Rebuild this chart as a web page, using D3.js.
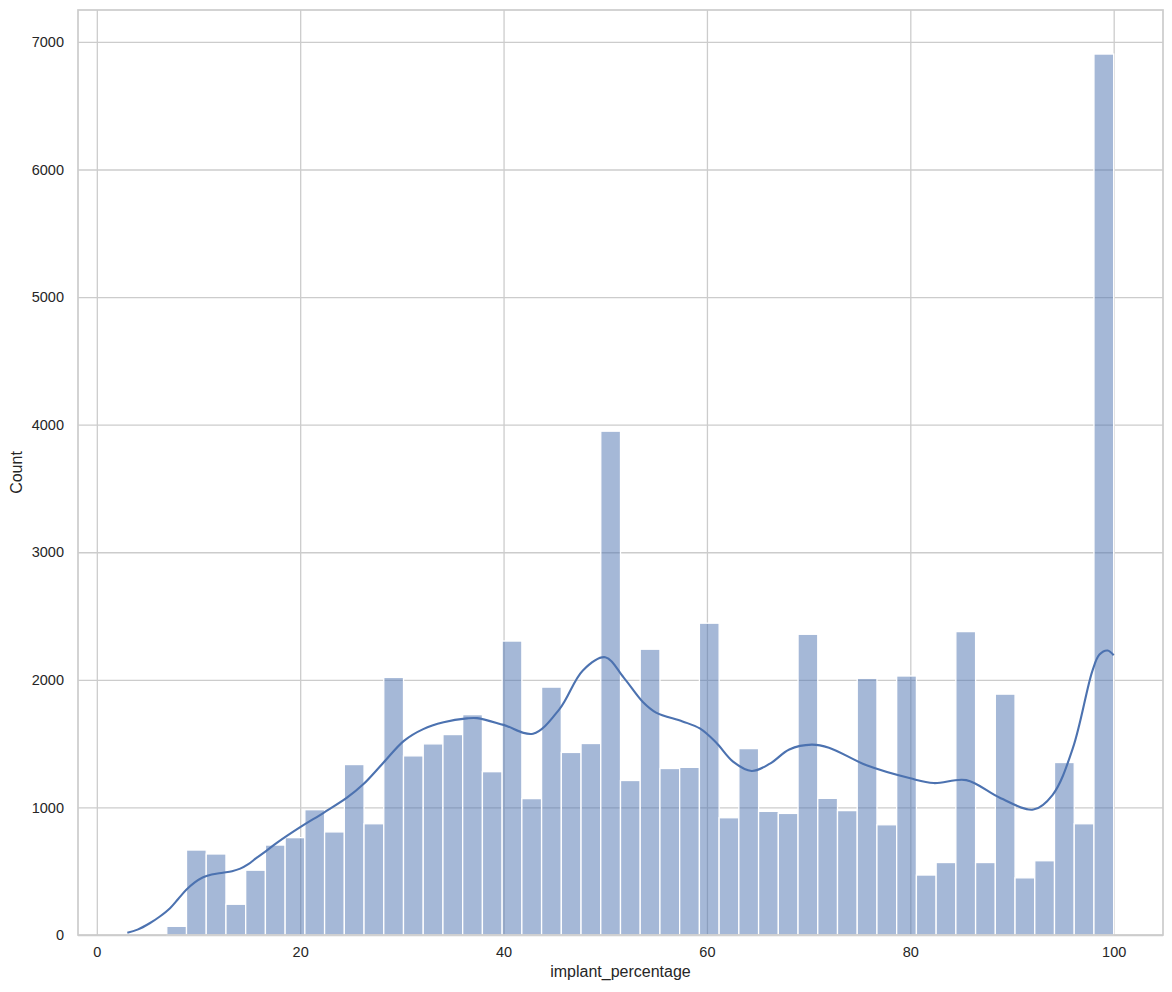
<!DOCTYPE html>
<html>
<head>
<meta charset="utf-8">
<script src="https://cdn.jsdelivr.net/npm/d3@7"></script>
<style>
  html, body { margin: 0; padding: 0; background: #fff; }
  svg { display: block; }
  text { font-family: Arial, "Liberation Sans", sans-serif; fill: #262626; }
</style>
</head>
<body>
<svg id="chart" width="1172" height="992"></svg>
<script>
// ---- data ----
const binRange = [3, 100];           // min and max of implant_percentage (50 equal bins)
const counts = [0, 0, 68, 666, 635, 241, 508, 705, 763, 982,
                808, 1336, 872, 2019, 1404, 1498, 1571, 1727, 1280, 2304,
                1069, 1943, 1431, 1501, 3949, 1211, 2240, 1305, 1314, 2444,
                919, 1461, 969, 953, 2357, 1071, 975, 2012, 864, 2030,
                470, 568, 2378, 568, 1888, 448, 582, 1352, 872, 6905];
const kdeX = [3.0, 4.0, 5.2, 6.2, 7.2, 8.0, 8.8, 9.6, 10.4, 11.3, 12.4, 13.3, 14.1, 14.9, 15.7, 16.7, 17.7,
              20, 22.3, 24.6, 26.2, 28.2, 30.2, 32.1,
              34.1, 36.4, 37.4, 40, 42.9, 45.5, 47.8, 50.0, 51.8, 53.7, 55.0, 57.6, 59.3, 60.9, 62.6,
              64.4, 66.2, 68.1, 70.3, 72.0, 75.7, 80, 82.3, 85.5, 88.8, 92.1, 94.0, 96.0, 97.9, 98.6, 99.4, 100];
const kdeY = [18, 42, 92, 145, 210, 282, 354, 410, 451, 474, 488, 500, 520, 555, 604, 662, 722,
              845, 958, 1076, 1181, 1352, 1522, 1614,
              1667, 1698, 1700, 1647, 1578, 1771, 2074, 2177, 2019, 1826, 1743, 1674, 1619, 1509, 1357,
              1286, 1343, 1454, 1492, 1468, 1330, 1228, 1191, 1214, 1076, 983, 1099, 1468, 2068, 2198, 2230, 2193];
const xTicks = [0, 20, 40, 60, 80, 100];
const yTicks = [0, 1000, 2000, 3000, 4000, 5000, 6000, 7000];
const xLabel = "implant_percentage";
const yLabel = "Count";

// ---- layout ----
const L = 78, R = 1163, T = 10, B = 935;
const svg = d3.select("#chart");
const nb = counts.length;
const bw = (binRange[1] - binRange[0]) / nb;
const bins = counts.map((c, i) => ({x0: binRange[0] + i * bw, x1: binRange[0] + (i + 1) * bw, c}));

const span = binRange[1] - binRange[0];
const x = d3.scaleLinear().domain([binRange[0] - 0.05 * span, binRange[1] + 0.05 * span]).range([L, R]);
const yMax = d3.max(counts) * 1.05;
const y = d3.scaleLinear().domain([0, yMax]).range([B, T]);

const gridColor = "#cccccc";

// grid
const xAxis = d3.axisBottom(x).tickValues(xTicks).tickSize(-(B - T)).tickPadding(12).tickFormat(d3.format("d"));
const yAxis = d3.axisLeft(y).tickValues(yTicks).tickSize(-(R - L)).tickPadding(14).tickFormat(d3.format("d"));

const gx = svg.append("g").attr("transform", `translate(0,${B})`).call(xAxis);
const gy = svg.append("g").attr("transform", `translate(${L},0)`).call(yAxis);
[gx, gy].forEach(g => {
  g.select(".domain").remove();
  g.selectAll(".tick line").attr("stroke", gridColor).attr("stroke-width", 1.3);
  g.selectAll(".tick text").attr("font-size", "14.5px").attr("fill", "#262626")
    .attr("font-family", "Arial, 'Liberation Sans', sans-serif");
});

// bars
svg.append("g").selectAll("rect").data(bins).join("rect")
  .attr("x", d => x(d.x0))
  .attr("width", d => x(d.x1) - x(d.x0))
  .attr("y", d => y(d.c))
  .attr("height", d => B - y(d.c))
  .attr("fill", "#4c72b0")
  .attr("fill-opacity", 0.5)
  .attr("stroke", "#ffffff")
  .attr("stroke-width", 1.3);

// kde line
const kde = kdeX.map((v, i) => [v, kdeY[i]]);
svg.append("path").datum(kde)
  .attr("d", d3.line().x(d => x(d[0])).y(d => y(d[1])).curve(d3.curveCatmullRom.alpha(0.5)))
  .attr("fill", "none")
  .attr("stroke", "#4c72b0")
  .attr("stroke-width", 2.1);

// frame
svg.append("rect").attr("x", L).attr("y", T).attr("width", R - L).attr("height", B - T)
  .attr("fill", "none").attr("stroke", gridColor).attr("stroke-width", 1.7);

// labels
svg.append("text").attr("x", (L + R) / 2).attr("y", 977).attr("text-anchor", "middle")
  .attr("font-size", "16px").text(xLabel);
svg.append("text").attr("transform", `translate(22,${(T + B) / 2}) rotate(-90)`).attr("text-anchor", "middle")
  .attr("font-size", "16px").text(yLabel);
</script>
</body>
</html>
